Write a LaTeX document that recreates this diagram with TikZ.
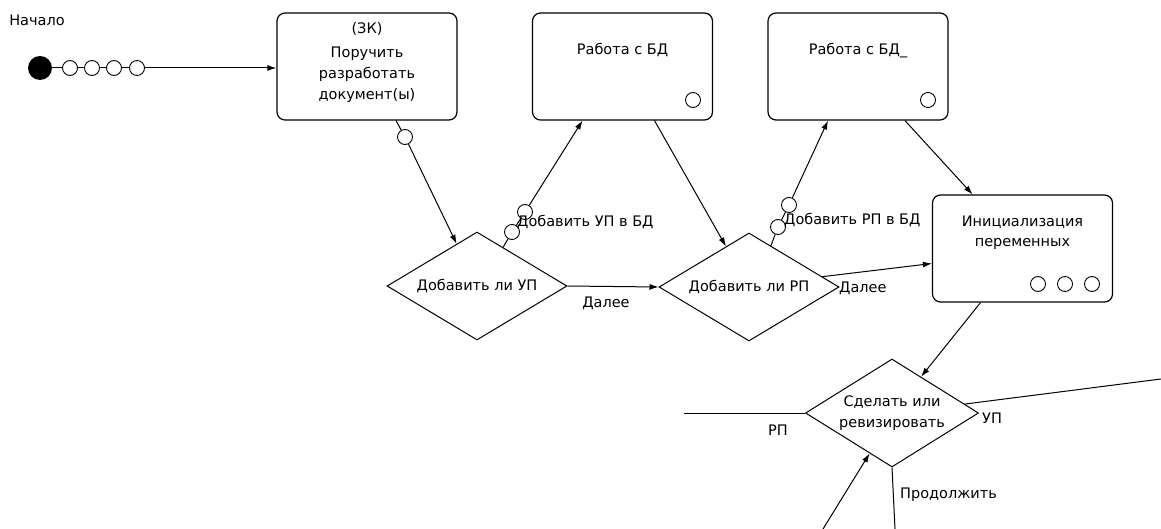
\documentclass[tikz,border=0pt]{standalone}
\usepackage{fontspec}
\setmainfont{DejaVu Sans}
\usetikzlibrary{shapes.geometric,arrows.meta,positioning}

\tikzset{
  task/.style={draw, rounded corners=8pt, line width=1.2pt, minimum width=180pt, minimum height=107pt, inner sep=0pt},
  tasktext/.style={inner sep=0pt, align=center, anchor=north, font=\fontsize{14.5}{21}\selectfont},
  decision/.style={draw, diamond, line width=1pt, aspect=1.67, minimum width=180pt, minimum height=108pt,
                   inner sep=0pt, align=center, font=\fontsize{14.5}{21}\selectfont},
  port/.style={draw, circle, fill=white, minimum size=15pt, inner sep=0pt, line width=0.9pt},
  startdot/.style={circle, fill=black, minimum size=24pt, inner sep=0pt},
  link/.style={line width=1pt},
  flow/.style={link, -{Latex[length=9pt,width=6pt]}},
  lbl/.style={inner sep=0pt, font=\fontsize{14.5}{21}\selectfont},
}

\begin{document}
\begin{tikzpicture}[x=1pt, y=-1pt]
  \useasboundingbox (0,0) rectangle (1161,529);

  % start
  \node[lbl] (startlbl) at (37,20) {Начало};
  \node[startdot] (start) at (40,68) {};
  \foreach \i/\x in {1/70,2/92,3/114,4/137}
    \node[port] (s\i) at (\x,68) {};
  \draw[link] (start) -- (s1) (s1) -- (s2) (s2) -- (s3) (s3) -- (s4);

  % tasks
  \node[task] (zk) at (367,66.5) {};
  \node[tasktext, below=10pt of zk.north] (zktext) {(ЗК)\\[3pt]Поручить\\разработать\\документ(ы)};
  \node[task] (db1) at (622.5,66.5) {};
  \node[tasktext, below=31pt of db1.north] (db1text) {Работа с БД};
  \node[port] (pdb1) at (693,100) {};
  \node[task] (db2) at (858,66.5) {};
  \node[tasktext, below=31pt of db2.north] (db2text) {Работа с БД\_};
  \node[port] (pdb2) at (928,100) {};
  \node[task] (init) at (1022.5,248.5) {};
  \node[tasktext, below=21pt of init.north] (inittext) {Инициализация\\[-1pt]переменных};
  \foreach \i/\x in {1/1038,2/1065,3/1092}
    \node[port] (pi\i) at (\x,284) {};

  % decisions
  \node[decision] (dec1) at (477,286) {Добавить ли УП};
  \node[decision] (dec2) at (749,287) {Добавить ли РП};
  \node[decision, minimum width=173pt] (dec3) at (892,413) {Сделать или\\ревизировать};

  % ports on links
  \node[port] (pz) at (405,137) {};
  \node[port] (pa) at (512,232) {};
  \node[port] (pb) at (525,212) {};
  \node[port] (pc) at (778,227) {};
  \node[port] (pd) at (789,205) {};

  % free ends
  \coordinate (outUP) at (1161,379);
  \coordinate (outRP) at (684,413);
  \coordinate (outGo) at (895,529);
  \coordinate (inBack) at (823,529);

  % links
  \draw[flow] (s4) -- (s4 -| zk.west);
  \draw[link] ([xshift=29pt]zk.south) -- (pz);
  \draw[flow] (pz) -- (dec1);
  \draw[link] (dec1.56) -- (pa);
  \draw[link] (pa) -- (pb);
  \draw[flow] (pb) -- ([xshift=-40pt]db1.south);
  \draw[flow] ([xshift=32pt]db1.south) -- (dec2);
  \draw[flow] (dec1.east) -- (dec2.west);
  \draw[link] (dec2.62) -- (pc);
  \draw[link] (pc) -- (pd);
  \draw[flow] (pd) -- ([xshift=-30pt]db2.south);
  \draw[flow] ([xshift=47pt]db2.south) -- ([xshift=-50pt]init.north);
  \draw[flow] (dec2.8) -- ([yshift=-15pt]init.west);
  \draw[flow] ([xshift=-42pt]init.south) -- (dec3);
  \draw[link] (dec3.7) -- (outUP);
  \draw[link] (dec3.west) -- (outRP);
  \draw[link] (dec3.south) -- (outGo);
  \draw[flow] (inBack) -- (dec3.241);

  % link labels
  \node[lbl, anchor=west] (laddUP) at (517,222) {Добавить УП в БД};
  \node[lbl] (lnext1) at (606,303) {Далее};
  \node[lbl, anchor=west] (laddRP) at (784,220) {Добавить РП в БД};
  \node[lbl, anchor=west] (lnext2) at (839,288) {Далее};
  \node[lbl, anchor=west] (lUP) at (982,418) {УП};
  \node[lbl] (lRP) at (778,430) {РП};
  \node[lbl, anchor=west] (lgo) at (900,495) {Продолжить};
\end{tikzpicture}
\end{document}
